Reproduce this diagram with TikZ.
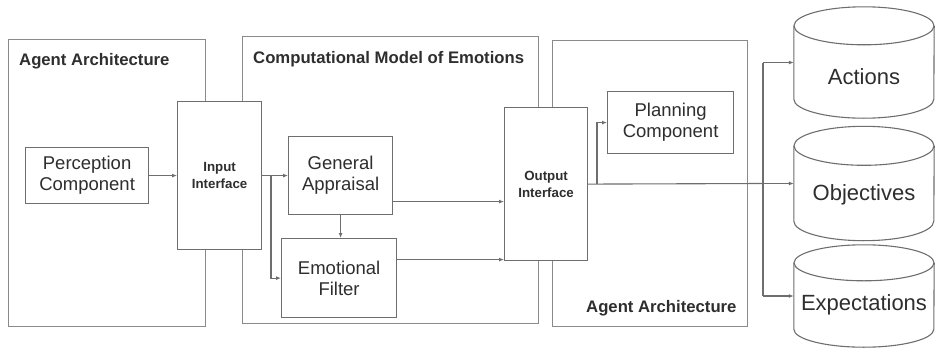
\documentclass[tikz,border=0pt]{standalone}
\usepackage{fontspec}
\setmainfont{Liberation Sans}
\usetikzlibrary{arrows.meta}
\definecolor{linec}{HTML}{6E6E6E}
\definecolor{framec}{HTML}{8A8A8A}
\definecolor{textc}{HTML}{2E2E2E}
\begin{document}
\begin{tikzpicture}[x=1pt,y=-1pt,
  every node/.append style={text=textc},
  frame/.style={draw=framec, line width=1.3pt, inner sep=0, anchor=north west},
  block/.style={draw=linec, line width=1.2pt, fill=white, inner sep=0, anchor=north west, align=center},
  plaintxt/.style={font=\fontsize{18.5}{21}\selectfont},
  iface/.style={font=\fontsize{13.3}{17}\selectfont\bfseries},
  title/.style={font=\fontsize{16.7}{20}\selectfont\bfseries, anchor=base west, inner sep=0},
  cylbody/.style={inner sep=0, minimum width=140},
  cyltxt/.style={font=\fontsize{22}{26}\selectfont, inner sep=0},
  wire/.style={draw=linec, line width=1.1pt},
  arr/.style={wire, -{Latex[length=5pt,width=4pt]}}
]
\useasboundingbox (0,0) rectangle (937,348);

% outer frames
\node[frame, minimum width=197, minimum height=287] (aaleft) at (8,39) {};
\node[frame, minimum width=296, minimum height=287] (cme) at (242,36) {};
\node[frame, minimum width=195, minimum height=286] (aaright) at (552,40) {};
\node[title] (taaleft) at (19,65) {Agent Architecture};
\node[title] (tcme) at (253,63) {Computational Model of Emotions};
\node[title] (taaright) at (586,312) {Agent Architecture};

% inner blocks
\node[block, plaintxt, minimum width=123, minimum height=56] (perc) at (25,147) {Perception\\Component};
\node[block, iface, minimum width=84, minimum height=148] (inp) at (177,101) {Input\\Interface};
\node[block, plaintxt, minimum width=104, minimum height=78] (ga) at (288,136) {General\\Appraisal};
\node[block, plaintxt, minimum width=115, minimum height=79] (ef) at (281,238) {Emotional\\Filter};
\node[block, iface, minimum width=83, minimum height=153] (outp) at (504,107) {Output\\Interface};
\node[block, plaintxt, minimum width=126, minimum height=62] (plan) at (607,91) {Planning\\Component};

% storage cylinders (body between the centres of the end ellipses)
\node[cylbody, minimum height=73] (act) at (864,62.5) {};
\node[cylbody, minimum height=75] (obj) at (864,183.5) {};
\node[cylbody, minimum height=66] (exps) at (864,296) {};
\foreach \c/\ry in {act/19, obj/19.5, exps/18}{
  \draw[wire, fill=white] (\c.north west) -- (\c.south west)
     arc[start angle=180, end angle=360, x radius=70pt, y radius=\ry pt]
     -- (\c.north east);
  \draw[wire] (\c.north) ellipse[x radius=70pt, y radius=\ry pt];
}
\node[cyltxt] (tact) at (864,77) {Actions};
\node[cyltxt] (tobj) at (864,195) {Objectives};
\node[cyltxt] (texps) at (864,305) {Expectations};

% connectors
\draw[arr] (perc.east) -- (inp.west);
\draw[arr] (inp.east) -- (ga.west);
\coordinate (splitin) at (271,175);
\draw[arr] (splitin) |- (ef.west);
\draw[arr] (ga.south) -- (ga.south |- ef.north);
\coordinate (gaout) at ([yshift=-26pt]ga.east);
\draw[arr] (gaout) -- (gaout -| outp.west);
\coordinate (efout) at ([yshift=18.5pt]ef.east);
\draw[arr] (efout) -- (efout -| outp.west);

\coordinate (splitplan) at (597,183.5);
\coordinate (bus) at (763,183.5);
\draw[wire] (outp.east) -- (bus);
\draw[arr] (splitplan) |- (plan.west);
\draw[wire] (bus |- act.west) -- (bus |- exps.west);
\draw[arr] (bus |- act.west) -- (act.west);
\draw[arr] (bus) -- (obj.west);
\draw[arr] (bus |- exps.west) -- (exps.west);
\end{tikzpicture}
\end{document}
